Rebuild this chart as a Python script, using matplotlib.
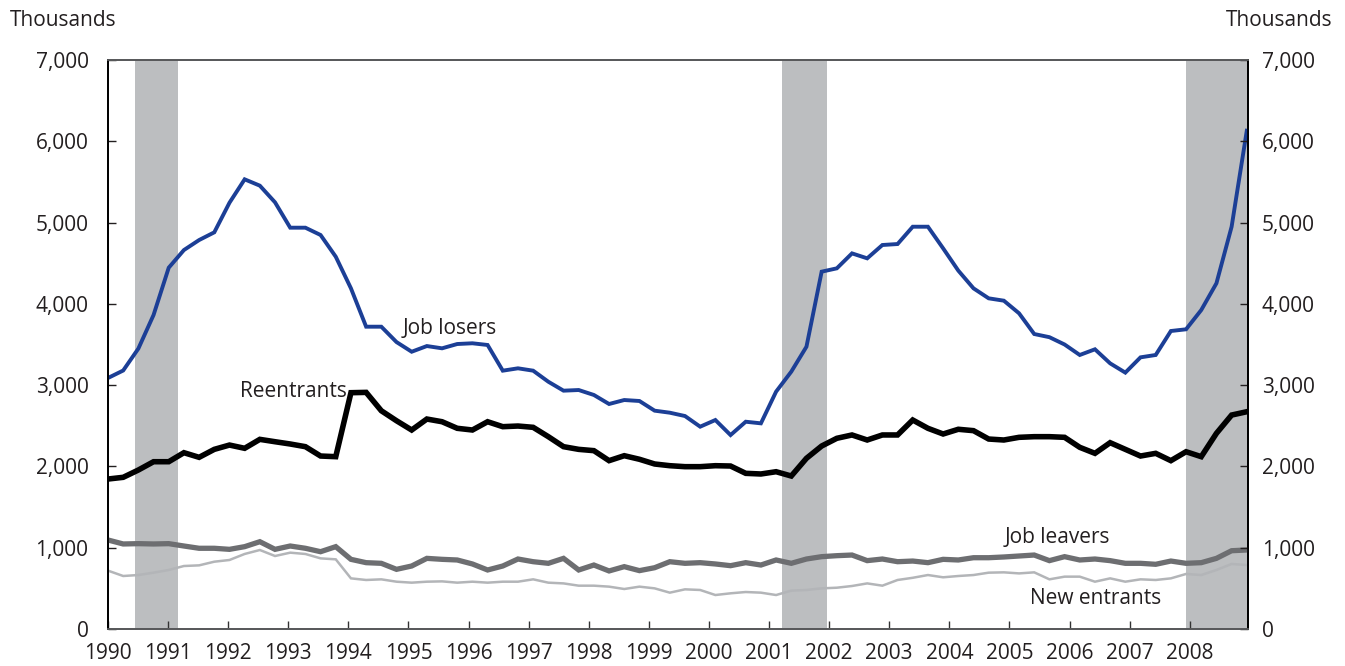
import numpy as np
import matplotlib
matplotlib.use("Agg")
import matplotlib.pyplot as plt
import matplotlib.ticker as mticker

plt.rcParams['font.family'] = ['Open Sans', 'DejaVu Sans']

# Quarterly data, 1990 Q1 - 2008 Q4 (thousands)
job_losers = [3088, 3180, 3450, 3863, 4445, 4662, 4785, 4880, 5244, 5532,
              5454, 5249, 4937, 4937, 4847, 4580, 4191, 3719, 3719, 3530,
              3411, 3481, 3453, 3506, 3515, 3494, 3178, 3207, 3178, 3042,
              2932, 2940, 2879, 2768, 2817, 2805, 2686, 2661, 2620, 2489,
              2571, 2386, 2550, 2530, 2920, 3166, 3473, 4396, 4437, 4621,
              4560, 4724, 4736, 4949, 4949, 4683, 4409, 4191, 4068, 4039,
              3884, 3629, 3590, 3500, 3371, 3441, 3268, 3154, 3342, 3371,
              3666, 3687, 3924, 4253, 4949, 6130]
reentrants = [1845, 1866, 1956, 2058, 2058, 2169, 2112, 2210, 2263, 2223,
              2333, 2304, 2276, 2243, 2128, 2120, 2907, 2911, 2685, 2562,
              2448, 2583, 2550, 2469, 2448, 2550, 2489, 2497, 2481, 2366,
              2243, 2210, 2194, 2071, 2132, 2088, 2030, 2009, 1997, 1997,
              2009, 2005, 1915, 1907, 1935, 1882, 2100, 2251, 2346, 2387,
              2325, 2387, 2387, 2571, 2469, 2399, 2457, 2440, 2337, 2325,
              2358, 2366, 2366, 2358, 2235, 2161, 2292, 2210, 2128, 2161,
              2071, 2181, 2120, 2407, 2632, 2673]
job_leavers = [1095, 1046, 1050, 1046, 1050, 1021, 993, 993, 980, 1013,
               1074, 980, 1021, 993, 951, 1013, 857, 816, 808, 734,
               775, 869, 857, 849, 800, 726, 775, 861, 828, 808,
               869, 726, 787, 714, 767, 718, 754, 828, 808, 816,
               800, 779, 816, 787, 849, 808, 861, 890, 902, 910,
               841, 861, 828, 836, 816, 857, 849, 877, 877, 886,
               898, 910, 841, 890, 849, 861, 841, 808, 808, 796,
               836, 808, 816, 869, 963, 972]
new_entrants = [718, 652, 664, 693, 726, 775, 783, 828, 849, 923,
                972, 898, 939, 923, 869, 857, 623, 603, 611, 582,
                570, 582, 586, 570, 582, 570, 582, 582, 611, 570,
                561, 533, 533, 521, 492, 521, 500, 447, 488, 480,
                418, 439, 455, 447, 418, 472, 480, 500, 508, 529,
                561, 533, 603, 630, 664, 636, 652, 664, 693, 697,
                684, 697, 611, 644, 644, 582, 623, 582, 611, 603,
                623, 677, 664, 726, 800, 787]
recessions = [(1990.45, 1991.17), (2001.22, 2001.96), (2007.93, 2009.2)]
years = list(range(1990, 2009))
yticks = list(range(0, 7001, 1000))

x = np.linspace(1990, 2008.95, len(job_losers))

fig = plt.figure(figsize=(13.45, 6.66), dpi=100)
ax = fig.add_axes([108/1345, 37/666, (1248-108)/1345, (629-60)/666])

for a, b in recessions:
    ax.axvspan(a, b, color='#bcbec0', lw=0, zorder=0)

ax.plot(x, new_entrants, color='#b3b5b8', lw=1.8, zorder=2, solid_joinstyle='miter')
ax.plot(x, job_leavers, color='#6d6e71', lw=3.8, zorder=3, solid_joinstyle='miter')
ax.plot(x, reentrants, color='#000000', lw=4.0, zorder=4, solid_joinstyle='miter')
ax.plot(x, job_losers, color='#1c3f96', lw=2.8, zorder=5, solid_joinstyle='miter')

ax.set_xlim(1990, 2008.97)
ax.set_ylim(0, 7000)
ax.set_xticks(years)
ax.set_xticklabels([str(y) for y in years])
ax.set_yticks(yticks)
fmt = mticker.FuncFormatter(lambda v, p: f"{int(v):,}")
ax.yaxis.set_major_formatter(fmt)

ax.tick_params(axis='x', direction='in', length=6, width=1, color='#333333',
               labelsize=15, pad=10, colors='#231f20')
ax.tick_params(axis='y', direction='in', length=6, width=1,
               labelsize=15, pad=14, colors='#231f20')

ax2 = ax.twinx()
ax2.set_ylim(0, 7000)
ax2.set_yticks(yticks)
ax2.yaxis.set_major_formatter(fmt)
ax2.tick_params(axis='y', direction='in', length=6, width=1,
                labelsize=15, pad=10, colors='#231f20')

for a in (ax, ax2):
    a.spines['top'].set_color('#58595b')
    a.spines['bottom'].set_color('#58595b')
    a.spines['left'].set_color('#000000')
    a.spines['right'].set_color('#000000')
    for s in a.spines.values():
        s.set_linewidth(1.3)

tc = '#231f20'
ax.text(1994.9, 3700, "Job losers", fontsize=15, color=tc, ha='left', va='center')
ax.text(1992.2, 2920, "Reentrants", fontsize=15, color=tc, ha='left', va='center')
ax.text(2004.92, 1130, "Job leavers", fontsize=15, color=tc, ha='left', va='center')
ax.text(2005.35, 380, "New entrants", fontsize=15, color=tc, ha='left', va='center')

fig.text(10/1345, 1 - 20/666, "Thousands", fontsize=15, color=tc, ha='left', va='center')
fig.text(1332/1345, 1 - 20/666, "Thousands", fontsize=15, color=tc, ha='right', va='center')

fig.savefig("out.png", dpi=100)
